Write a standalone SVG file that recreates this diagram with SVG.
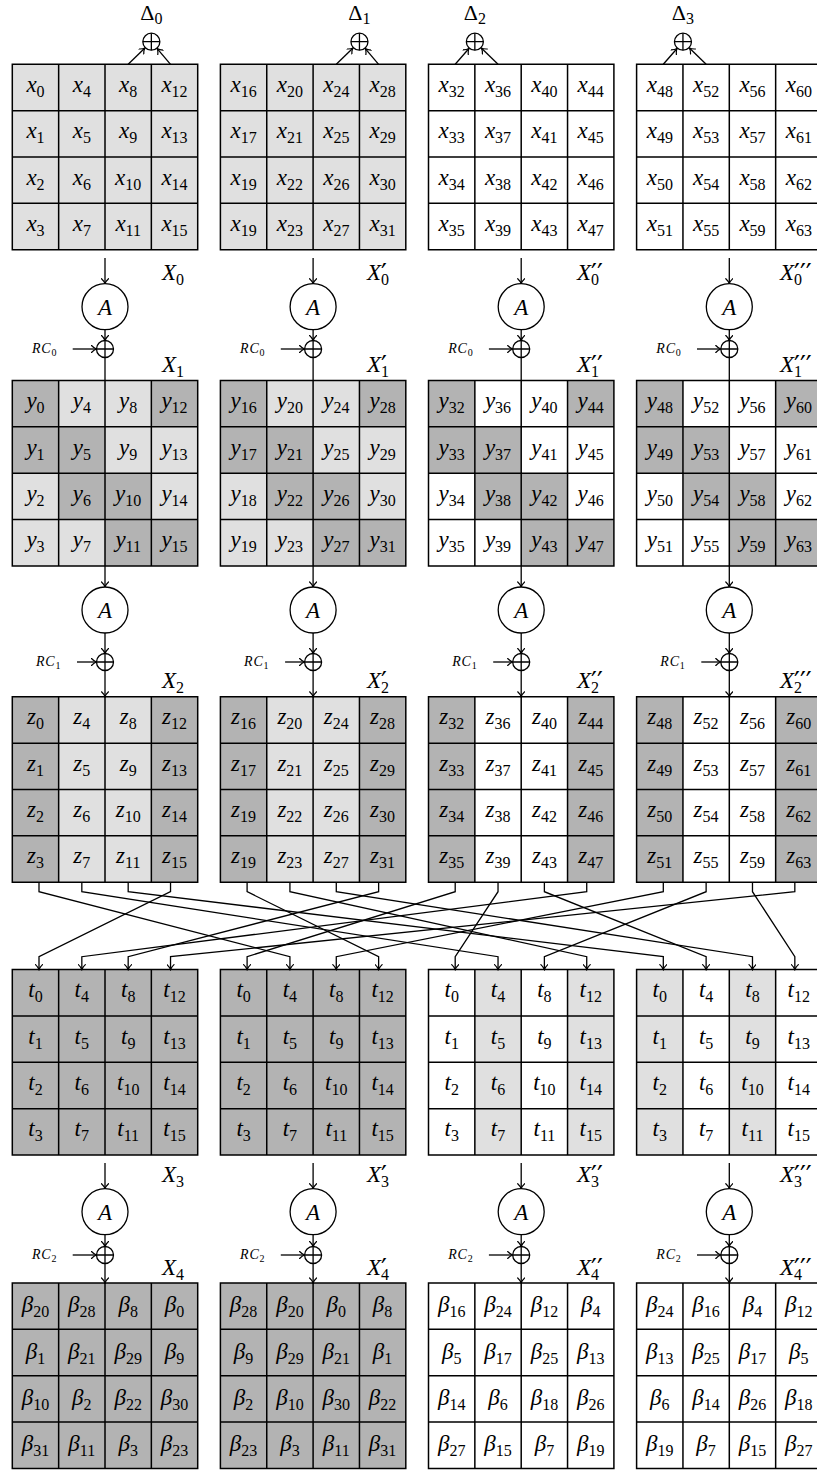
<svg xmlns="http://www.w3.org/2000/svg" width="817" height="1470" viewBox="0 0 817 1470">
<defs>
<style>
text{font-family:"Liberation Serif","Times New Roman",serif;fill:#000}
.n text,.A text,.L{font-style:italic;font-size:23px}
.n text,.A text{text-anchor:middle}
.s{font-style:normal;font-size:16px}
.p{font-style:normal;font-size:26px;font-family:"DejaVu Sans",sans-serif}
.d{fill:#b3b3b3}.l{fill:#e0e0e0}.w{fill:#fff}
.cn line,.cn path{fill:none;stroke:#000;stroke-width:1.3;marker-end:url(#ah)}
.cn .nm{marker-end:none}
.A circle{fill:#fff;stroke:#000;stroke-width:1.3}
.R{font-style:italic;font-size:14px;letter-spacing:0.8px}
.rs{font-style:normal;font-size:10px}
.D{font-size:22px;text-anchor:middle}
</style>
<marker id="ah" viewBox="-6 -4 7 8" refX="0" refY="0" markerWidth="7" markerHeight="8" markerUnits="userSpaceOnUse" orient="auto">
<path d="M-5,-3.5Q-2.5,-0.8 0,0Q-2.5,0.8 -5,3.5" fill="none" stroke="#000" stroke-width="1.2" stroke-linecap="round"/>
</marker>
<path id="gl" d="M0,0H185.4V185.4H0ZM46.35,0V185.4M92.7,0V185.4M139.05,0V185.4M0,46.35H185.4M0,92.7H185.4M0,139.05H185.4" fill="none" stroke="#000" stroke-width="1.5"/>
<g id="xo"><circle r="8.5" fill="#fff" stroke="#000" stroke-width="1.3"/><path d="M-8.5,0H8.5M0,-8.5V8.5" fill="none" stroke="#000" stroke-width="1.3"/></g>
<rect id="c" width="46.35" height="46.35"/>
</defs>
<rect width="817" height="1470" fill="#fff"/>

<!-- ===== Grid X ===== -->
<g id="gX0" class="n" transform="translate(12.3,64.3)">
<rect class="l" width="185.4" height="185.4"/><use href="#gl"/>
<text x="23.2" y="27.7">x<tspan class="s" dy="5">0</tspan></text><text x="69.5" y="27.7">x<tspan class="s" dy="5">4</tspan></text><text x="115.9" y="27.7">x<tspan class="s" dy="5">8</tspan></text><text x="162.2" y="27.7">x<tspan class="s" dy="5">12</tspan></text>
<text x="23.2" y="74">x<tspan class="s" dy="5">1</tspan></text><text x="69.5" y="74">x<tspan class="s" dy="5">5</tspan></text><text x="115.9" y="74">x<tspan class="s" dy="5">9</tspan></text><text x="162.2" y="74">x<tspan class="s" dy="5">13</tspan></text>
<text x="23.2" y="120.4">x<tspan class="s" dy="5">2</tspan></text><text x="69.5" y="120.4">x<tspan class="s" dy="5">6</tspan></text><text x="115.9" y="120.4">x<tspan class="s" dy="5">10</tspan></text><text x="162.2" y="120.4">x<tspan class="s" dy="5">14</tspan></text>
<text x="23.2" y="166.7">x<tspan class="s" dy="5">3</tspan></text><text x="69.5" y="166.7">x<tspan class="s" dy="5">7</tspan></text><text x="115.9" y="166.7">x<tspan class="s" dy="5">11</tspan></text><text x="162.2" y="166.7">x<tspan class="s" dy="5">15</tspan></text>
</g>
<g id="gX1" class="n" transform="translate(220.4,64.3)">
<rect class="l" width="185.4" height="185.4"/><use href="#gl"/>
<text x="23.2" y="27.7">x<tspan class="s" dy="5">16</tspan></text><text x="69.5" y="27.7">x<tspan class="s" dy="5">20</tspan></text><text x="115.9" y="27.7">x<tspan class="s" dy="5">24</tspan></text><text x="162.2" y="27.7">x<tspan class="s" dy="5">28</tspan></text>
<text x="23.2" y="74">x<tspan class="s" dy="5">17</tspan></text><text x="69.5" y="74">x<tspan class="s" dy="5">21</tspan></text><text x="115.9" y="74">x<tspan class="s" dy="5">25</tspan></text><text x="162.2" y="74">x<tspan class="s" dy="5">29</tspan></text>
<text x="23.2" y="120.4">x<tspan class="s" dy="5">19</tspan></text><text x="69.5" y="120.4">x<tspan class="s" dy="5">22</tspan></text><text x="115.9" y="120.4">x<tspan class="s" dy="5">26</tspan></text><text x="162.2" y="120.4">x<tspan class="s" dy="5">30</tspan></text>
<text x="23.2" y="166.7">x<tspan class="s" dy="5">19</tspan></text><text x="69.5" y="166.7">x<tspan class="s" dy="5">23</tspan></text><text x="115.9" y="166.7">x<tspan class="s" dy="5">27</tspan></text><text x="162.2" y="166.7">x<tspan class="s" dy="5">31</tspan></text>
</g>
<g id="gX2" class="n" transform="translate(428.5,64.3)">
<rect class="w" width="185.4" height="185.4"/><use href="#gl"/>
<text x="23.2" y="27.7">x<tspan class="s" dy="5">32</tspan></text><text x="69.5" y="27.7">x<tspan class="s" dy="5">36</tspan></text><text x="115.9" y="27.7">x<tspan class="s" dy="5">40</tspan></text><text x="162.2" y="27.7">x<tspan class="s" dy="5">44</tspan></text>
<text x="23.2" y="74">x<tspan class="s" dy="5">33</tspan></text><text x="69.5" y="74">x<tspan class="s" dy="5">37</tspan></text><text x="115.9" y="74">x<tspan class="s" dy="5">41</tspan></text><text x="162.2" y="74">x<tspan class="s" dy="5">45</tspan></text>
<text x="23.2" y="120.4">x<tspan class="s" dy="5">34</tspan></text><text x="69.5" y="120.4">x<tspan class="s" dy="5">38</tspan></text><text x="115.9" y="120.4">x<tspan class="s" dy="5">42</tspan></text><text x="162.2" y="120.4">x<tspan class="s" dy="5">46</tspan></text>
<text x="23.2" y="166.7">x<tspan class="s" dy="5">35</tspan></text><text x="69.5" y="166.7">x<tspan class="s" dy="5">39</tspan></text><text x="115.9" y="166.7">x<tspan class="s" dy="5">43</tspan></text><text x="162.2" y="166.7">x<tspan class="s" dy="5">47</tspan></text>
</g>
<g id="gX3" class="n" transform="translate(636.6,64.3)">
<rect class="w" width="185.4" height="185.4"/><use href="#gl"/>
<text x="23.2" y="27.7">x<tspan class="s" dy="5">48</tspan></text><text x="69.5" y="27.7">x<tspan class="s" dy="5">52</tspan></text><text x="115.9" y="27.7">x<tspan class="s" dy="5">56</tspan></text><text x="162.2" y="27.7">x<tspan class="s" dy="5">60</tspan></text>
<text x="23.2" y="74">x<tspan class="s" dy="5">49</tspan></text><text x="69.5" y="74">x<tspan class="s" dy="5">53</tspan></text><text x="115.9" y="74">x<tspan class="s" dy="5">57</tspan></text><text x="162.2" y="74">x<tspan class="s" dy="5">61</tspan></text>
<text x="23.2" y="120.4">x<tspan class="s" dy="5">50</tspan></text><text x="69.5" y="120.4">x<tspan class="s" dy="5">54</tspan></text><text x="115.9" y="120.4">x<tspan class="s" dy="5">58</tspan></text><text x="162.2" y="120.4">x<tspan class="s" dy="5">62</tspan></text>
<text x="23.2" y="166.7">x<tspan class="s" dy="5">51</tspan></text><text x="69.5" y="166.7">x<tspan class="s" dy="5">55</tspan></text><text x="115.9" y="166.7">x<tspan class="s" dy="5">59</tspan></text><text x="162.2" y="166.7">x<tspan class="s" dy="5">63</tspan></text>
</g>

<!-- ===== Grid Y ===== -->
<g id="gY0" class="n" transform="translate(12.3,380.5)">
<rect class="l" width="185.4" height="185.4"/>
<use href="#c" class="d" x="0" y="0"/><use href="#c" class="d" x="139.05" y="0"/><use href="#c" class="d" x="0" y="46.35"/><use href="#c" class="d" x="46.35" y="46.35"/><use href="#c" class="d" x="46.35" y="92.7"/><use href="#c" class="d" x="92.7" y="92.7"/><use href="#c" class="d" x="92.7" y="139.05"/><use href="#c" class="d" x="139.05" y="139.05"/>
<use href="#gl"/>
<text x="23.2" y="27.7">y<tspan class="s" dy="5">0</tspan></text><text x="69.5" y="27.7">y<tspan class="s" dy="5">4</tspan></text><text x="115.9" y="27.7">y<tspan class="s" dy="5">8</tspan></text><text x="162.2" y="27.7">y<tspan class="s" dy="5">12</tspan></text>
<text x="23.2" y="74">y<tspan class="s" dy="5">1</tspan></text><text x="69.5" y="74">y<tspan class="s" dy="5">5</tspan></text><text x="115.9" y="74">y<tspan class="s" dy="5">9</tspan></text><text x="162.2" y="74">y<tspan class="s" dy="5">13</tspan></text>
<text x="23.2" y="120.4">y<tspan class="s" dy="5">2</tspan></text><text x="69.5" y="120.4">y<tspan class="s" dy="5">6</tspan></text><text x="115.9" y="120.4">y<tspan class="s" dy="5">10</tspan></text><text x="162.2" y="120.4">y<tspan class="s" dy="5">14</tspan></text>
<text x="23.2" y="166.7">y<tspan class="s" dy="5">3</tspan></text><text x="69.5" y="166.7">y<tspan class="s" dy="5">7</tspan></text><text x="115.9" y="166.7">y<tspan class="s" dy="5">11</tspan></text><text x="162.2" y="166.7">y<tspan class="s" dy="5">15</tspan></text>
</g>
<g id="gY1" class="n" transform="translate(220.4,380.5)">
<rect class="l" width="185.4" height="185.4"/>
<use href="#c" class="d" x="0" y="0"/><use href="#c" class="d" x="139.05" y="0"/><use href="#c" class="d" x="0" y="46.35"/><use href="#c" class="d" x="46.35" y="46.35"/><use href="#c" class="d" x="46.35" y="92.7"/><use href="#c" class="d" x="92.7" y="92.7"/><use href="#c" class="d" x="92.7" y="139.05"/><use href="#c" class="d" x="139.05" y="139.05"/>
<use href="#gl"/>
<text x="23.2" y="27.7">y<tspan class="s" dy="5">16</tspan></text><text x="69.5" y="27.7">y<tspan class="s" dy="5">20</tspan></text><text x="115.9" y="27.7">y<tspan class="s" dy="5">24</tspan></text><text x="162.2" y="27.7">y<tspan class="s" dy="5">28</tspan></text>
<text x="23.2" y="74">y<tspan class="s" dy="5">17</tspan></text><text x="69.5" y="74">y<tspan class="s" dy="5">21</tspan></text><text x="115.9" y="74">y<tspan class="s" dy="5">25</tspan></text><text x="162.2" y="74">y<tspan class="s" dy="5">29</tspan></text>
<text x="23.2" y="120.4">y<tspan class="s" dy="5">18</tspan></text><text x="69.5" y="120.4">y<tspan class="s" dy="5">22</tspan></text><text x="115.9" y="120.4">y<tspan class="s" dy="5">26</tspan></text><text x="162.2" y="120.4">y<tspan class="s" dy="5">30</tspan></text>
<text x="23.2" y="166.7">y<tspan class="s" dy="5">19</tspan></text><text x="69.5" y="166.7">y<tspan class="s" dy="5">23</tspan></text><text x="115.9" y="166.7">y<tspan class="s" dy="5">27</tspan></text><text x="162.2" y="166.7">y<tspan class="s" dy="5">31</tspan></text>
</g>
<g id="gY2" class="n" transform="translate(428.5,380.5)">
<rect class="w" width="185.4" height="185.4"/>
<use href="#c" class="d" x="0" y="0"/><use href="#c" class="d" x="139.05" y="0"/><use href="#c" class="d" x="0" y="46.35"/><use href="#c" class="d" x="46.35" y="46.35"/><use href="#c" class="d" x="46.35" y="92.7"/><use href="#c" class="d" x="92.7" y="92.7"/><use href="#c" class="d" x="92.7" y="139.05"/><use href="#c" class="d" x="139.05" y="139.05"/>
<use href="#gl"/>
<text x="23.2" y="27.7">y<tspan class="s" dy="5">32</tspan></text><text x="69.5" y="27.7">y<tspan class="s" dy="5">36</tspan></text><text x="115.9" y="27.7">y<tspan class="s" dy="5">40</tspan></text><text x="162.2" y="27.7">y<tspan class="s" dy="5">44</tspan></text>
<text x="23.2" y="74">y<tspan class="s" dy="5">33</tspan></text><text x="69.5" y="74">y<tspan class="s" dy="5">37</tspan></text><text x="115.9" y="74">y<tspan class="s" dy="5">41</tspan></text><text x="162.2" y="74">y<tspan class="s" dy="5">45</tspan></text>
<text x="23.2" y="120.4">y<tspan class="s" dy="5">34</tspan></text><text x="69.5" y="120.4">y<tspan class="s" dy="5">38</tspan></text><text x="115.9" y="120.4">y<tspan class="s" dy="5">42</tspan></text><text x="162.2" y="120.4">y<tspan class="s" dy="5">46</tspan></text>
<text x="23.2" y="166.7">y<tspan class="s" dy="5">35</tspan></text><text x="69.5" y="166.7">y<tspan class="s" dy="5">39</tspan></text><text x="115.9" y="166.7">y<tspan class="s" dy="5">43</tspan></text><text x="162.2" y="166.7">y<tspan class="s" dy="5">47</tspan></text>
</g>
<g id="gY3" class="n" transform="translate(636.6,380.5)">
<rect class="w" width="185.4" height="185.4"/>
<use href="#c" class="d" x="0" y="0"/><use href="#c" class="d" x="139.05" y="0"/><use href="#c" class="d" x="0" y="46.35"/><use href="#c" class="d" x="46.35" y="46.35"/><use href="#c" class="d" x="46.35" y="92.7"/><use href="#c" class="d" x="92.7" y="92.7"/><use href="#c" class="d" x="92.7" y="139.05"/><use href="#c" class="d" x="139.05" y="139.05"/>
<use href="#gl"/>
<text x="23.2" y="27.7">y<tspan class="s" dy="5">48</tspan></text><text x="69.5" y="27.7">y<tspan class="s" dy="5">52</tspan></text><text x="115.9" y="27.7">y<tspan class="s" dy="5">56</tspan></text><text x="162.2" y="27.7">y<tspan class="s" dy="5">60</tspan></text>
<text x="23.2" y="74">y<tspan class="s" dy="5">49</tspan></text><text x="69.5" y="74">y<tspan class="s" dy="5">53</tspan></text><text x="115.9" y="74">y<tspan class="s" dy="5">57</tspan></text><text x="162.2" y="74">y<tspan class="s" dy="5">61</tspan></text>
<text x="23.2" y="120.4">y<tspan class="s" dy="5">50</tspan></text><text x="69.5" y="120.4">y<tspan class="s" dy="5">54</tspan></text><text x="115.9" y="120.4">y<tspan class="s" dy="5">58</tspan></text><text x="162.2" y="120.4">y<tspan class="s" dy="5">62</tspan></text>
<text x="23.2" y="166.7">y<tspan class="s" dy="5">51</tspan></text><text x="69.5" y="166.7">y<tspan class="s" dy="5">55</tspan></text><text x="115.9" y="166.7">y<tspan class="s" dy="5">59</tspan></text><text x="162.2" y="166.7">y<tspan class="s" dy="5">63</tspan></text>
</g>

<!-- ===== Grid Z ===== -->
<g id="gZ0" class="n" transform="translate(12.3,696.8)">
<rect class="l" width="185.4" height="185.4"/><rect class="d" width="46.35" height="185.4"/><rect class="d" x="139.05" width="46.35" height="185.4"/><use href="#gl"/>
<text x="23.2" y="27.7">z<tspan class="s" dy="5">0</tspan></text><text x="69.5" y="27.7">z<tspan class="s" dy="5">4</tspan></text><text x="115.9" y="27.7">z<tspan class="s" dy="5">8</tspan></text><text x="162.2" y="27.7">z<tspan class="s" dy="5">12</tspan></text>
<text x="23.2" y="74">z<tspan class="s" dy="5">1</tspan></text><text x="69.5" y="74">z<tspan class="s" dy="5">5</tspan></text><text x="115.9" y="74">z<tspan class="s" dy="5">9</tspan></text><text x="162.2" y="74">z<tspan class="s" dy="5">13</tspan></text>
<text x="23.2" y="120.4">z<tspan class="s" dy="5">2</tspan></text><text x="69.5" y="120.4">z<tspan class="s" dy="5">6</tspan></text><text x="115.9" y="120.4">z<tspan class="s" dy="5">10</tspan></text><text x="162.2" y="120.4">z<tspan class="s" dy="5">14</tspan></text>
<text x="23.2" y="166.7">z<tspan class="s" dy="5">3</tspan></text><text x="69.5" y="166.7">z<tspan class="s" dy="5">7</tspan></text><text x="115.9" y="166.7">z<tspan class="s" dy="5">11</tspan></text><text x="162.2" y="166.7">z<tspan class="s" dy="5">15</tspan></text>
</g>
<g id="gZ1" class="n" transform="translate(220.4,696.8)">
<rect class="l" width="185.4" height="185.4"/><rect class="d" width="46.35" height="185.4"/><rect class="d" x="139.05" width="46.35" height="185.4"/><use href="#gl"/>
<text x="23.2" y="27.7">z<tspan class="s" dy="5">16</tspan></text><text x="69.5" y="27.7">z<tspan class="s" dy="5">20</tspan></text><text x="115.9" y="27.7">z<tspan class="s" dy="5">24</tspan></text><text x="162.2" y="27.7">z<tspan class="s" dy="5">28</tspan></text>
<text x="23.2" y="74">z<tspan class="s" dy="5">17</tspan></text><text x="69.5" y="74">z<tspan class="s" dy="5">21</tspan></text><text x="115.9" y="74">z<tspan class="s" dy="5">25</tspan></text><text x="162.2" y="74">z<tspan class="s" dy="5">29</tspan></text>
<text x="23.2" y="120.4">z<tspan class="s" dy="5">19</tspan></text><text x="69.5" y="120.4">z<tspan class="s" dy="5">22</tspan></text><text x="115.9" y="120.4">z<tspan class="s" dy="5">26</tspan></text><text x="162.2" y="120.4">z<tspan class="s" dy="5">30</tspan></text>
<text x="23.2" y="166.7">z<tspan class="s" dy="5">19</tspan></text><text x="69.5" y="166.7">z<tspan class="s" dy="5">23</tspan></text><text x="115.9" y="166.7">z<tspan class="s" dy="5">27</tspan></text><text x="162.2" y="166.7">z<tspan class="s" dy="5">31</tspan></text>
</g>
<g id="gZ2" class="n" transform="translate(428.5,696.8)">
<rect class="w" width="185.4" height="185.4"/><rect class="d" width="46.35" height="185.4"/><rect class="d" x="139.05" width="46.35" height="185.4"/><use href="#gl"/>
<text x="23.2" y="27.7">z<tspan class="s" dy="5">32</tspan></text><text x="69.5" y="27.7">z<tspan class="s" dy="5">36</tspan></text><text x="115.9" y="27.7">z<tspan class="s" dy="5">40</tspan></text><text x="162.2" y="27.7">z<tspan class="s" dy="5">44</tspan></text>
<text x="23.2" y="74">z<tspan class="s" dy="5">33</tspan></text><text x="69.5" y="74">z<tspan class="s" dy="5">37</tspan></text><text x="115.9" y="74">z<tspan class="s" dy="5">41</tspan></text><text x="162.2" y="74">z<tspan class="s" dy="5">45</tspan></text>
<text x="23.2" y="120.4">z<tspan class="s" dy="5">34</tspan></text><text x="69.5" y="120.4">z<tspan class="s" dy="5">38</tspan></text><text x="115.9" y="120.4">z<tspan class="s" dy="5">42</tspan></text><text x="162.2" y="120.4">z<tspan class="s" dy="5">46</tspan></text>
<text x="23.2" y="166.7">z<tspan class="s" dy="5">35</tspan></text><text x="69.5" y="166.7">z<tspan class="s" dy="5">39</tspan></text><text x="115.9" y="166.7">z<tspan class="s" dy="5">43</tspan></text><text x="162.2" y="166.7">z<tspan class="s" dy="5">47</tspan></text>
</g>
<g id="gZ3" class="n" transform="translate(636.6,696.8)">
<rect class="w" width="185.4" height="185.4"/><rect class="d" width="46.35" height="185.4"/><rect class="d" x="139.05" width="46.35" height="185.4"/><use href="#gl"/>
<text x="23.2" y="27.7">z<tspan class="s" dy="5">48</tspan></text><text x="69.5" y="27.7">z<tspan class="s" dy="5">52</tspan></text><text x="115.9" y="27.7">z<tspan class="s" dy="5">56</tspan></text><text x="162.2" y="27.7">z<tspan class="s" dy="5">60</tspan></text>
<text x="23.2" y="74">z<tspan class="s" dy="5">49</tspan></text><text x="69.5" y="74">z<tspan class="s" dy="5">53</tspan></text><text x="115.9" y="74">z<tspan class="s" dy="5">57</tspan></text><text x="162.2" y="74">z<tspan class="s" dy="5">61</tspan></text>
<text x="23.2" y="120.4">z<tspan class="s" dy="5">50</tspan></text><text x="69.5" y="120.4">z<tspan class="s" dy="5">54</tspan></text><text x="115.9" y="120.4">z<tspan class="s" dy="5">58</tspan></text><text x="162.2" y="120.4">z<tspan class="s" dy="5">62</tspan></text>
<text x="23.2" y="166.7">z<tspan class="s" dy="5">51</tspan></text><text x="69.5" y="166.7">z<tspan class="s" dy="5">55</tspan></text><text x="115.9" y="166.7">z<tspan class="s" dy="5">59</tspan></text><text x="162.2" y="166.7">z<tspan class="s" dy="5">63</tspan></text>
</g>

<!-- ===== Grid T ===== -->
<g id="gT0" class="n" transform="translate(12.3,969.6)">
<rect class="d" width="185.4" height="185.4"/><use href="#gl"/>
<text x="23.2" y="27.7">t<tspan class="s" dy="5">0</tspan></text><text x="69.5" y="27.7">t<tspan class="s" dy="5">4</tspan></text><text x="115.9" y="27.7">t<tspan class="s" dy="5">8</tspan></text><text x="162.2" y="27.7">t<tspan class="s" dy="5">12</tspan></text>
<text x="23.2" y="74">t<tspan class="s" dy="5">1</tspan></text><text x="69.5" y="74">t<tspan class="s" dy="5">5</tspan></text><text x="115.9" y="74">t<tspan class="s" dy="5">9</tspan></text><text x="162.2" y="74">t<tspan class="s" dy="5">13</tspan></text>
<text x="23.2" y="120.4">t<tspan class="s" dy="5">2</tspan></text><text x="69.5" y="120.4">t<tspan class="s" dy="5">6</tspan></text><text x="115.9" y="120.4">t<tspan class="s" dy="5">10</tspan></text><text x="162.2" y="120.4">t<tspan class="s" dy="5">14</tspan></text>
<text x="23.2" y="166.7">t<tspan class="s" dy="5">3</tspan></text><text x="69.5" y="166.7">t<tspan class="s" dy="5">7</tspan></text><text x="115.9" y="166.7">t<tspan class="s" dy="5">11</tspan></text><text x="162.2" y="166.7">t<tspan class="s" dy="5">15</tspan></text>
</g>
<g id="gT1" class="n" transform="translate(220.4,969.6)">
<rect class="d" width="185.4" height="185.4"/><use href="#gl"/>
<text x="23.2" y="27.7">t<tspan class="s" dy="5">0</tspan></text><text x="69.5" y="27.7">t<tspan class="s" dy="5">4</tspan></text><text x="115.9" y="27.7">t<tspan class="s" dy="5">8</tspan></text><text x="162.2" y="27.7">t<tspan class="s" dy="5">12</tspan></text>
<text x="23.2" y="74">t<tspan class="s" dy="5">1</tspan></text><text x="69.5" y="74">t<tspan class="s" dy="5">5</tspan></text><text x="115.9" y="74">t<tspan class="s" dy="5">9</tspan></text><text x="162.2" y="74">t<tspan class="s" dy="5">13</tspan></text>
<text x="23.2" y="120.4">t<tspan class="s" dy="5">2</tspan></text><text x="69.5" y="120.4">t<tspan class="s" dy="5">6</tspan></text><text x="115.9" y="120.4">t<tspan class="s" dy="5">10</tspan></text><text x="162.2" y="120.4">t<tspan class="s" dy="5">14</tspan></text>
<text x="23.2" y="166.7">t<tspan class="s" dy="5">3</tspan></text><text x="69.5" y="166.7">t<tspan class="s" dy="5">7</tspan></text><text x="115.9" y="166.7">t<tspan class="s" dy="5">11</tspan></text><text x="162.2" y="166.7">t<tspan class="s" dy="5">15</tspan></text>
</g>
<g id="gT2" class="n" transform="translate(428.5,969.6)">
<rect class="w" width="185.4" height="185.4"/><rect class="l" x="46.35" width="46.35" height="185.4"/><rect class="l" x="139.05" width="46.35" height="185.4"/><use href="#gl"/>
<text x="23.2" y="27.7">t<tspan class="s" dy="5">0</tspan></text><text x="69.5" y="27.7">t<tspan class="s" dy="5">4</tspan></text><text x="115.9" y="27.7">t<tspan class="s" dy="5">8</tspan></text><text x="162.2" y="27.7">t<tspan class="s" dy="5">12</tspan></text>
<text x="23.2" y="74">t<tspan class="s" dy="5">1</tspan></text><text x="69.5" y="74">t<tspan class="s" dy="5">5</tspan></text><text x="115.9" y="74">t<tspan class="s" dy="5">9</tspan></text><text x="162.2" y="74">t<tspan class="s" dy="5">13</tspan></text>
<text x="23.2" y="120.4">t<tspan class="s" dy="5">2</tspan></text><text x="69.5" y="120.4">t<tspan class="s" dy="5">6</tspan></text><text x="115.9" y="120.4">t<tspan class="s" dy="5">10</tspan></text><text x="162.2" y="120.4">t<tspan class="s" dy="5">14</tspan></text>
<text x="23.2" y="166.7">t<tspan class="s" dy="5">3</tspan></text><text x="69.5" y="166.7">t<tspan class="s" dy="5">7</tspan></text><text x="115.9" y="166.7">t<tspan class="s" dy="5">11</tspan></text><text x="162.2" y="166.7">t<tspan class="s" dy="5">15</tspan></text>
</g>
<g id="gT3" class="n" transform="translate(636.6,969.6)">
<rect class="w" width="185.4" height="185.4"/><rect class="l" width="46.35" height="185.4"/><rect class="l" x="92.7" width="46.35" height="185.4"/><use href="#gl"/>
<text x="23.2" y="27.7">t<tspan class="s" dy="5">0</tspan></text><text x="69.5" y="27.7">t<tspan class="s" dy="5">4</tspan></text><text x="115.9" y="27.7">t<tspan class="s" dy="5">8</tspan></text><text x="162.2" y="27.7">t<tspan class="s" dy="5">12</tspan></text>
<text x="23.2" y="74">t<tspan class="s" dy="5">1</tspan></text><text x="69.5" y="74">t<tspan class="s" dy="5">5</tspan></text><text x="115.9" y="74">t<tspan class="s" dy="5">9</tspan></text><text x="162.2" y="74">t<tspan class="s" dy="5">13</tspan></text>
<text x="23.2" y="120.4">t<tspan class="s" dy="5">2</tspan></text><text x="69.5" y="120.4">t<tspan class="s" dy="5">6</tspan></text><text x="115.9" y="120.4">t<tspan class="s" dy="5">10</tspan></text><text x="162.2" y="120.4">t<tspan class="s" dy="5">14</tspan></text>
<text x="23.2" y="166.7">t<tspan class="s" dy="5">3</tspan></text><text x="69.5" y="166.7">t<tspan class="s" dy="5">7</tspan></text><text x="115.9" y="166.7">t<tspan class="s" dy="5">11</tspan></text><text x="162.2" y="166.7">t<tspan class="s" dy="5">15</tspan></text>
</g>

<!-- ===== Grid Beta ===== -->
<g id="gB0" class="n" transform="translate(12.3,1283)">
<rect class="d" width="185.4" height="185.4"/><use href="#gl"/>
<text x="23.2" y="29.2">β<tspan class="s" dy="5">20</tspan></text><text x="69.5" y="29.2">β<tspan class="s" dy="5">28</tspan></text><text x="115.9" y="29.2">β<tspan class="s" dy="5">8</tspan></text><text x="162.2" y="29.2">β<tspan class="s" dy="5">0</tspan></text>
<text x="23.2" y="75.5">β<tspan class="s" dy="5">1</tspan></text><text x="69.5" y="75.5">β<tspan class="s" dy="5">21</tspan></text><text x="115.9" y="75.5">β<tspan class="s" dy="5">29</tspan></text><text x="162.2" y="75.5">β<tspan class="s" dy="5">9</tspan></text>
<text x="23.2" y="121.9">β<tspan class="s" dy="5">10</tspan></text><text x="69.5" y="121.9">β<tspan class="s" dy="5">2</tspan></text><text x="115.9" y="121.9">β<tspan class="s" dy="5">22</tspan></text><text x="162.2" y="121.9">β<tspan class="s" dy="5">30</tspan></text>
<text x="23.2" y="168.2">β<tspan class="s" dy="5">31</tspan></text><text x="69.5" y="168.2">β<tspan class="s" dy="5">11</tspan></text><text x="115.9" y="168.2">β<tspan class="s" dy="5">3</tspan></text><text x="162.2" y="168.2">β<tspan class="s" dy="5">23</tspan></text>
</g>
<g id="gB1" class="n" transform="translate(220.4,1283)">
<rect class="d" width="185.4" height="185.4"/><use href="#gl"/>
<text x="23.2" y="29.2">β<tspan class="s" dy="5">28</tspan></text><text x="69.5" y="29.2">β<tspan class="s" dy="5">20</tspan></text><text x="115.9" y="29.2">β<tspan class="s" dy="5">0</tspan></text><text x="162.2" y="29.2">β<tspan class="s" dy="5">8</tspan></text>
<text x="23.2" y="75.5">β<tspan class="s" dy="5">9</tspan></text><text x="69.5" y="75.5">β<tspan class="s" dy="5">29</tspan></text><text x="115.9" y="75.5">β<tspan class="s" dy="5">21</tspan></text><text x="162.2" y="75.5">β<tspan class="s" dy="5">1</tspan></text>
<text x="23.2" y="121.9">β<tspan class="s" dy="5">2</tspan></text><text x="69.5" y="121.9">β<tspan class="s" dy="5">10</tspan></text><text x="115.9" y="121.9">β<tspan class="s" dy="5">30</tspan></text><text x="162.2" y="121.9">β<tspan class="s" dy="5">22</tspan></text>
<text x="23.2" y="168.2">β<tspan class="s" dy="5">23</tspan></text><text x="69.5" y="168.2">β<tspan class="s" dy="5">3</tspan></text><text x="115.9" y="168.2">β<tspan class="s" dy="5">11</tspan></text><text x="162.2" y="168.2">β<tspan class="s" dy="5">31</tspan></text>
</g>
<g id="gB2" class="n" transform="translate(428.5,1283)">
<rect class="w" width="185.4" height="185.4"/><use href="#gl"/>
<text x="23.2" y="29.2">β<tspan class="s" dy="5">16</tspan></text><text x="69.5" y="29.2">β<tspan class="s" dy="5">24</tspan></text><text x="115.9" y="29.2">β<tspan class="s" dy="5">12</tspan></text><text x="162.2" y="29.2">β<tspan class="s" dy="5">4</tspan></text>
<text x="23.2" y="75.5">β<tspan class="s" dy="5">5</tspan></text><text x="69.5" y="75.5">β<tspan class="s" dy="5">17</tspan></text><text x="115.9" y="75.5">β<tspan class="s" dy="5">25</tspan></text><text x="162.2" y="75.5">β<tspan class="s" dy="5">13</tspan></text>
<text x="23.2" y="121.9">β<tspan class="s" dy="5">14</tspan></text><text x="69.5" y="121.9">β<tspan class="s" dy="5">6</tspan></text><text x="115.9" y="121.9">β<tspan class="s" dy="5">18</tspan></text><text x="162.2" y="121.9">β<tspan class="s" dy="5">26</tspan></text>
<text x="23.2" y="168.2">β<tspan class="s" dy="5">27</tspan></text><text x="69.5" y="168.2">β<tspan class="s" dy="5">15</tspan></text><text x="115.9" y="168.2">β<tspan class="s" dy="5">7</tspan></text><text x="162.2" y="168.2">β<tspan class="s" dy="5">19</tspan></text>
</g>
<g id="gB3" class="n" transform="translate(636.6,1283)">
<rect class="w" width="185.4" height="185.4"/><use href="#gl"/>
<text x="23.2" y="29.2">β<tspan class="s" dy="5">24</tspan></text><text x="69.5" y="29.2">β<tspan class="s" dy="5">16</tspan></text><text x="115.9" y="29.2">β<tspan class="s" dy="5">4</tspan></text><text x="162.2" y="29.2">β<tspan class="s" dy="5">12</tspan></text>
<text x="23.2" y="75.5">β<tspan class="s" dy="5">13</tspan></text><text x="69.5" y="75.5">β<tspan class="s" dy="5">25</tspan></text><text x="115.9" y="75.5">β<tspan class="s" dy="5">17</tspan></text><text x="162.2" y="75.5">β<tspan class="s" dy="5">5</tspan></text>
<text x="23.2" y="121.9">β<tspan class="s" dy="5">6</tspan></text><text x="69.5" y="121.9">β<tspan class="s" dy="5">14</tspan></text><text x="115.9" y="121.9">β<tspan class="s" dy="5">26</tspan></text><text x="162.2" y="121.9">β<tspan class="s" dy="5">18</tspan></text>
<text x="23.2" y="168.2">β<tspan class="s" dy="5">19</tspan></text><text x="69.5" y="168.2">β<tspan class="s" dy="5">7</tspan></text><text x="115.9" y="168.2">β<tspan class="s" dy="5">15</tspan></text><text x="162.2" y="168.2">β<tspan class="s" dy="5">27</tspan></text>
</g>

<!-- ===== Connectors ===== -->
<g id="connectors" class="cn">
<line x1="128.18" y1="64.3" x2="144.9" y2="48"/><line x1="170.53" y1="64.3" x2="157.2" y2="48.6"/>
<line x1="336.28" y1="64.3" x2="353" y2="48"/><line x1="378.63" y1="64.3" x2="365.3" y2="48.6"/>
<line x1="455.2" y1="64.3" x2="468.95" y2="48.5"/><line x1="498.03" y1="64.3" x2="481.3" y2="48"/>
<line x1="663.3" y1="64.3" x2="677.05" y2="48.5"/><line x1="706.13" y1="64.3" x2="689.4" y2="48"/>

<line x1="105" y1="258" x2="105" y2="283.7"/><line x1="105" y1="329.7" x2="105" y2="340.5"/><line class="nm" x1="105" y1="357.5" x2="105" y2="380.5"/><line x1="72.7" y1="349" x2="96.5" y2="349"/>
<line x1="313.1" y1="258" x2="313.1" y2="283.7"/><line x1="313.1" y1="329.7" x2="313.1" y2="340.5"/><line class="nm" x1="313.1" y1="357.5" x2="313.1" y2="380.5"/><line x1="280.8" y1="349" x2="304.6" y2="349"/>
<line x1="521.2" y1="258" x2="521.2" y2="283.7"/><line x1="521.2" y1="329.7" x2="521.2" y2="340.5"/><line class="nm" x1="521.2" y1="357.5" x2="521.2" y2="380.5"/><line x1="488.9" y1="349" x2="512.7" y2="349"/>
<line x1="729.3" y1="258" x2="729.3" y2="283.7"/><line x1="729.3" y1="329.7" x2="729.3" y2="340.5"/><line class="nm" x1="729.3" y1="357.5" x2="729.3" y2="380.5"/><line x1="697" y1="349" x2="720.8" y2="349"/>

<line x1="105" y1="565.9" x2="105" y2="587"/><line x1="105" y1="633" x2="105" y2="653.5"/><line x1="105" y1="670.5" x2="105" y2="696.8"/><line x1="77" y1="662" x2="96.5" y2="662"/>
<line x1="313.1" y1="565.9" x2="313.1" y2="587"/><line x1="313.1" y1="633" x2="313.1" y2="653.5"/><line x1="313.1" y1="670.5" x2="313.1" y2="696.8"/><line x1="285.1" y1="662" x2="304.6" y2="662"/>
<line x1="521.2" y1="565.9" x2="521.2" y2="587"/><line x1="521.2" y1="633" x2="521.2" y2="653.5"/><line x1="521.2" y1="670.5" x2="521.2" y2="696.8"/><line x1="493.2" y1="662" x2="512.7" y2="662"/>
<line x1="729.3" y1="565.9" x2="729.3" y2="587"/><line x1="729.3" y1="633" x2="729.3" y2="653.5"/><line x1="729.3" y1="670.5" x2="729.3" y2="696.8"/><line x1="701.3" y1="662" x2="720.8" y2="662"/>

<path d="M170.53,882.2V891.7L39,956.7V969.6"/>
<path d="M586.73,882.2V891.7L81.83,956.7V969.6"/>
<path d="M378.63,882.2V891.7L128.18,956.7V969.6"/>
<path d="M794.83,882.2V891.7L170.53,956.7V969.6"/>
<path d="M455.2,882.2V891.7L247.1,956.7V969.6"/>
<path d="M39,882.2V891.7L289.93,956.7V969.6"/>
<path d="M663.3,882.2V891.7L336.28,956.7V969.6"/>
<path d="M247.1,882.2V891.7L378.63,956.7V969.6"/>
<path d="M498.03,882.2V891.7L455.2,956.7V969.6"/>
<path d="M81.83,882.2V891.7L498.03,956.7V969.6"/>
<path d="M706.13,882.2V891.7L544.38,956.7V969.6"/>
<path d="M289.93,882.2V891.7L586.73,956.7V969.6"/>
<path d="M128.18,882.2V891.7L663.3,956.7V969.6"/>
<path d="M544.38,882.2V891.7L706.13,956.7V969.6"/>
<path d="M336.28,882.2V891.7L752.48,956.7V969.6"/>
<path d="M752.48,882.2V891.7L794.83,956.7V969.6"/>

<line x1="105" y1="1163" x2="105" y2="1188.7"/><line x1="105" y1="1234.7" x2="105" y2="1246.5"/><line x1="105" y1="1263.5" x2="105" y2="1283"/><line x1="72.7" y1="1255" x2="96.5" y2="1255"/>
<line x1="313.1" y1="1163" x2="313.1" y2="1188.7"/><line x1="313.1" y1="1234.7" x2="313.1" y2="1246.5"/><line x1="313.1" y1="1263.5" x2="313.1" y2="1283"/><line x1="280.8" y1="1255" x2="304.6" y2="1255"/>
<line x1="521.2" y1="1163" x2="521.2" y2="1188.7"/><line x1="521.2" y1="1234.7" x2="521.2" y2="1246.5"/><line x1="521.2" y1="1263.5" x2="521.2" y2="1283"/><line x1="488.9" y1="1255" x2="512.7" y2="1255"/>
<line x1="729.3" y1="1163" x2="729.3" y2="1188.7"/><line x1="729.3" y1="1234.7" x2="729.3" y2="1246.5"/><line x1="729.3" y1="1263.5" x2="729.3" y2="1283"/><line x1="697" y1="1255" x2="720.8" y2="1255"/>
</g>

<!-- ===== XOR nodes ===== -->
<g id="xt0"><use href="#xo" x="151.35" y="41.7"/></g>
<g id="xt1"><use href="#xo" x="359.45" y="41.7"/></g>
<g id="xt2"><use href="#xo" x="474.85" y="41.7"/></g>
<g id="xt3"><use href="#xo" x="682.95" y="41.7"/></g>
<g id="x1_0"><use href="#xo" x="105" y="349"/></g>
<g id="x1_1"><use href="#xo" x="313.1" y="349"/></g>
<g id="x1_2"><use href="#xo" x="521.2" y="349"/></g>
<g id="x1_3"><use href="#xo" x="729.3" y="349"/></g>
<g id="x2_0"><use href="#xo" x="105" y="662"/></g>
<g id="x2_1"><use href="#xo" x="313.1" y="662"/></g>
<g id="x2_2"><use href="#xo" x="521.2" y="662"/></g>
<g id="x2_3"><use href="#xo" x="729.3" y="662"/></g>
<g id="x3_0"><use href="#xo" x="105" y="1255"/></g>
<g id="x3_1"><use href="#xo" x="313.1" y="1255"/></g>
<g id="x3_2"><use href="#xo" x="521.2" y="1255"/></g>
<g id="x3_3"><use href="#xo" x="729.3" y="1255"/></g>

<!-- ===== A nodes ===== -->
<g id="A1_0" class="A"><circle cx="105" cy="306.7" r="23"/><text x="105" y="314.7">A</text></g>
<g id="A1_1" class="A"><circle cx="313.1" cy="306.7" r="23"/><text x="313.1" y="314.7">A</text></g>
<g id="A1_2" class="A"><circle cx="521.2" cy="306.7" r="23"/><text x="521.2" y="314.7">A</text></g>
<g id="A1_3" class="A"><circle cx="729.3" cy="306.7" r="23"/><text x="729.3" y="314.7">A</text></g>
<g id="A2_0" class="A"><circle cx="105" cy="610" r="23"/><text x="105" y="618">A</text></g>
<g id="A2_1" class="A"><circle cx="313.1" cy="610" r="23"/><text x="313.1" y="618">A</text></g>
<g id="A2_2" class="A"><circle cx="521.2" cy="610" r="23"/><text x="521.2" y="618">A</text></g>
<g id="A2_3" class="A"><circle cx="729.3" cy="610" r="23"/><text x="729.3" y="618">A</text></g>
<g id="A3_0" class="A"><circle cx="105" cy="1211.7" r="23"/><text x="105" y="1219.7">A</text></g>
<g id="A3_1" class="A"><circle cx="313.1" cy="1211.7" r="23"/><text x="313.1" y="1219.7">A</text></g>
<g id="A3_2" class="A"><circle cx="521.2" cy="1211.7" r="23"/><text x="521.2" y="1219.7">A</text></g>
<g id="A3_3" class="A"><circle cx="729.3" cy="1211.7" r="23"/><text x="729.3" y="1219.7">A</text></g>

<!-- ===== Labels ===== -->
<g id="labels">
<text class="D" x="151.35" y="20">Δ<tspan class="s" dy="4">0</tspan></text>
<text class="D" x="359.45" y="20">Δ<tspan class="s" dy="4">1</tspan></text>
<text class="D" x="474.85" y="20">Δ<tspan class="s" dy="4">2</tspan></text>
<text class="D" x="682.95" y="20">Δ<tspan class="s" dy="4">3</tspan></text>

<text class="L" x="162" y="280">X<tspan class="s" dy="5">0</tspan></text>
<text class="L" x="367" y="280">X<tspan class="p" dy="3">′</tspan><tspan class="s" x="381" dy="2">0</tspan></text>
<text class="L" x="577" y="280">X<tspan class="p" dy="3">′′</tspan><tspan class="s" x="591" dy="2">0</tspan></text>
<text class="L" x="780" y="280">X<tspan class="p" dy="3">′′′</tspan><tspan class="s" x="794" dy="2">0</tspan></text>

<text class="L" x="162" y="372">X<tspan class="s" dy="5">1</tspan></text>
<text class="L" x="367" y="372">X<tspan class="p" dy="3">′</tspan><tspan class="s" x="381" dy="2">1</tspan></text>
<text class="L" x="577" y="372">X<tspan class="p" dy="3">′′</tspan><tspan class="s" x="591" dy="2">1</tspan></text>
<text class="L" x="780" y="372">X<tspan class="p" dy="3">′′′</tspan><tspan class="s" x="794" dy="2">1</tspan></text>

<text class="L" x="162" y="688">X<tspan class="s" dy="5">2</tspan></text>
<text class="L" x="367" y="688">X<tspan class="p" dy="3">′</tspan><tspan class="s" x="381" dy="2">2</tspan></text>
<text class="L" x="577" y="688">X<tspan class="p" dy="3">′′</tspan><tspan class="s" x="591" dy="2">2</tspan></text>
<text class="L" x="780" y="688">X<tspan class="p" dy="3">′′′</tspan><tspan class="s" x="794" dy="2">2</tspan></text>

<text class="L" x="162" y="1182">X<tspan class="s" dy="5">3</tspan></text>
<text class="L" x="367" y="1182">X<tspan class="p" dy="3">′</tspan><tspan class="s" x="381" dy="2">3</tspan></text>
<text class="L" x="577" y="1182">X<tspan class="p" dy="3">′′</tspan><tspan class="s" x="591" dy="2">3</tspan></text>
<text class="L" x="780" y="1182">X<tspan class="p" dy="3">′′′</tspan><tspan class="s" x="794" dy="2">3</tspan></text>

<text class="L" x="162" y="1275">X<tspan class="s" dy="5">4</tspan></text>
<text class="L" x="367" y="1275">X<tspan class="p" dy="3">′</tspan><tspan class="s" x="381" dy="2">4</tspan></text>
<text class="L" x="577" y="1275">X<tspan class="p" dy="3">′′</tspan><tspan class="s" x="591" dy="2">4</tspan></text>
<text class="L" x="780" y="1275">X<tspan class="p" dy="3">′′′</tspan><tspan class="s" x="794" dy="2">4</tspan></text>

<text class="R" x="32" y="353">RC<tspan class="rs" dy="3">0</tspan></text>
<text class="R" x="240.1" y="353">RC<tspan class="rs" dy="3">0</tspan></text>
<text class="R" x="448.2" y="353">RC<tspan class="rs" dy="3">0</tspan></text>
<text class="R" x="656.3" y="353">RC<tspan class="rs" dy="3">0</tspan></text>
<text class="R" x="36" y="666">RC<tspan class="rs" dy="3">1</tspan></text>
<text class="R" x="244.1" y="666">RC<tspan class="rs" dy="3">1</tspan></text>
<text class="R" x="452.2" y="666">RC<tspan class="rs" dy="3">1</tspan></text>
<text class="R" x="660.3" y="666">RC<tspan class="rs" dy="3">1</tspan></text>
<text class="R" x="32" y="1259">RC<tspan class="rs" dy="3">2</tspan></text>
<text class="R" x="240.1" y="1259">RC<tspan class="rs" dy="3">2</tspan></text>
<text class="R" x="448.2" y="1259">RC<tspan class="rs" dy="3">2</tspan></text>
<text class="R" x="656.3" y="1259">RC<tspan class="rs" dy="3">2</tspan></text>
</g>
</svg>
